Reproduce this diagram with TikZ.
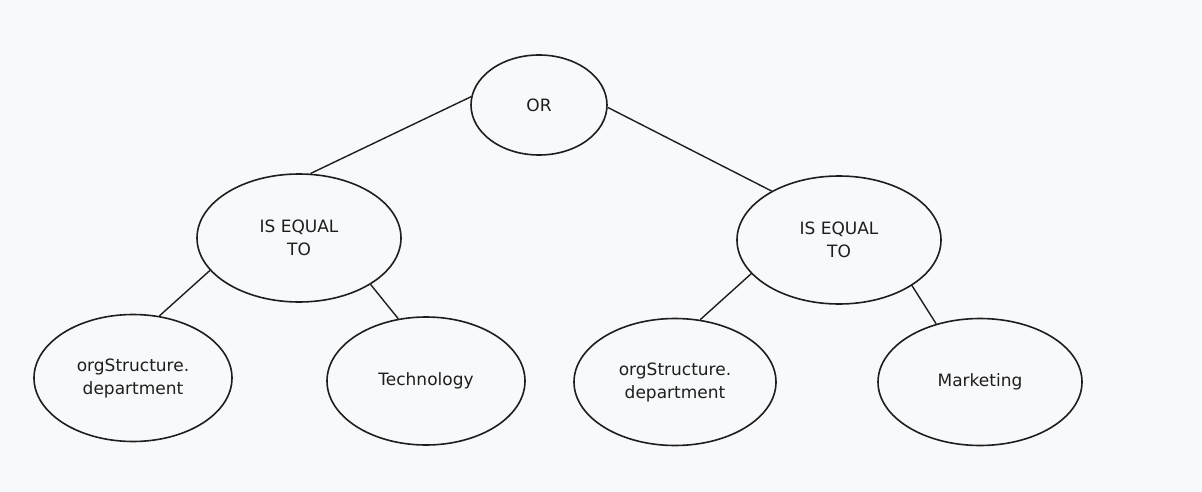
\documentclass[tikz,border=0pt]{standalone}
\usepackage{fontspec}
\setmainfont{DejaVu Sans}
\usepackage{tikz}
\usetikzlibrary{shapes.geometric}

\definecolor{paper}{HTML}{F8F9FA}
\definecolor{ink}{HTML}{1E1E1E}

\begin{document}
\begin{tikzpicture}[
    x=1pt, y=-1pt,
    op/.style={
      ellipse,
      draw=ink,
      line width=1.6pt,
      text=ink,
      align=center,
      inner sep=0pt,
      font=\fontsize{17}{23}\selectfont
    },
    edge/.style={draw=ink, line width=1.4pt}
  ]
  \fill[paper] (0,0) rectangle (1202,492);
  \useasboundingbox (0,0) rectangle (1202,492);

  % root
  \node[op, minimum width=136, minimum height=100] (or) at (539,105) {OR};

  % comparisons
  \node[op, minimum width=204, minimum height=128] (eqL) at (299,238) {IS EQUAL\\TO};
  \node[op, minimum width=204, minimum height=128] (eqR) at (839,240) {IS EQUAL\\TO};

  % leaves
  \node[op, minimum width=198, minimum height=127] (orgL) at (133,378) {orgStructure.\\department};
  \node[op, minimum width=198, minimum height=128] (tech) at (426,381) {Technology};
  \node[op, minimum width=202, minimum height=127] (orgR) at (675,382) {orgStructure.\\department};
  \node[op, minimum width=204, minimum height=127] (mkt) at (980,382) {Marketing};

  \draw[edge] (or.173) -- (eqL.80);
  \draw[edge] (or.-2) -- (eqR.144);
  \draw[edge] (eqL.200) -- (orgL.67);
  \draw[edge] (eqL.-33) -- (tech.114);
  \draw[edge] (eqR.201) -- (orgR.68);
  \draw[edge] (eqR.-32) -- (mkt.127);
\end{tikzpicture}
\end{document}
